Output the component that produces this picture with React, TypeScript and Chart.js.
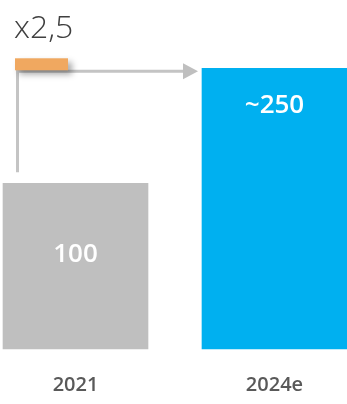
import { useEffect, useRef } from "react";
import { Chart, registerables } from "chart.js";

Chart.register(...registerables);

const categories = ["2021", "2024e"];
const values = [100, 250];
const valueLabels = ["100", "~250"];
const barColors = ["#BFBFBF", "#00B0F0"];
const multiplierLabel = "x2,5";
const axisBase = -116;
const axisMax = 326;

const annotate = {
  id: "annotate",
  afterDatasetsDraw(chart: any) {
    const ctx = chart.ctx;
    const meta = chart.getDatasetMeta(0);
    const g = meta.data[0] as any;
    const b = meta.data[1] as any;
    const gLeft = g.x - g.width / 2;
    const bLeft = b.x - b.width / 2;
    ctx.save();
    // value labels
    ctx.fillStyle = "#FFFFFF";
    ctx.font = "600 26px 'Open Sans'";
    ctx.textAlign = "center";
    ctx.textBaseline = "middle";
    ctx.fillText(valueLabels[0], g.x, g.y + 71);
    ctx.fillText(valueLabels[1], b.x, b.y + 37);

    // connector lines
    const lx = gLeft + 14.5;
    const ly = b.y + 3;
    ctx.strokeStyle = "#C4C4C4";
    ctx.lineWidth = 3;
    ctx.beginPath();
    ctx.moveTo(lx, g.y - 11);
    ctx.lineTo(lx, ly);
    ctx.lineTo(bLeft - 18, ly);
    ctx.stroke();
    // arrow head
    ctx.fillStyle = "#BFBFBF";
    ctx.beginPath();
    ctx.moveTo(bLeft - 19, ly - 8);
    ctx.lineTo(bLeft - 4, ly);
    ctx.lineTo(bLeft - 19, ly + 8);
    ctx.closePath();
    ctx.fill();

    // orange marker with shadow
    ctx.save();
    ctx.shadowColor = "rgba(0,0,0,0.35)";
    ctx.shadowBlur = 6;
    ctx.shadowOffsetX = 4;
    ctx.shadowOffsetY = 4;
    ctx.fillStyle = "#F0A860";
    ctx.fillRect(lx - 2.5, ly - 13, 53, 12);
    ctx.restore();

    // multiplier text
    ctx.fillStyle = "#404040";
    ctx.font = "300 32px 'Open Sans'";
    ctx.textAlign = "left";
    ctx.textBaseline = "alphabetic";
    ctx.fillText(multiplierLabel, gLeft + 11, ly - 33);
    ctx.restore();
  },
};

export default function App() {
  const ref = useRef<HTMLCanvasElement | null>(null);
  useEffect(() => {
    if (!ref.current) return;
    const chart = new Chart(ref.current, {
      type: "bar",
      data: {
        labels: categories,
        datasets: [
          {
            data: values,
            backgroundColor: barColors,
            base: axisBase,
            barThickness: 145,
            clip: false,
          } as any,
        ],
      },
      options: {
        animation: false,
        responsive: true,
        maintainAspectRatio: false,
        events: [],
        layout: { padding: { left: 75.5, right: 72.5, top: 10, bottom: 0 } },
        plugins: { legend: { display: false }, tooltip: { enabled: false } },
        scales: {
          x: {
            type: "category",
            offset: false,
            grid: { display: false, drawTicks: false },
            border: { display: false },
            afterFit: (scale: any) => {
              scale.height = 55;
            },
            ticks: {
              color: "#595959",
              font: { family: "'Open Sans'", size: 20, weight: "600" as any },
              padding: 24,
              maxRotation: 0,
            },
          },
          y: {
            display: false,
            min: axisBase,
            max: axisMax,
          },
        },
      },
      plugins: [annotate],
    });
    return () => chart.destroy();
  }, []);
  return (
    <div style={{ position: "absolute", left: 0, top: 0, width: 347, height: 404 }}>
      <canvas ref={ref} />
    </div>
  );
}
